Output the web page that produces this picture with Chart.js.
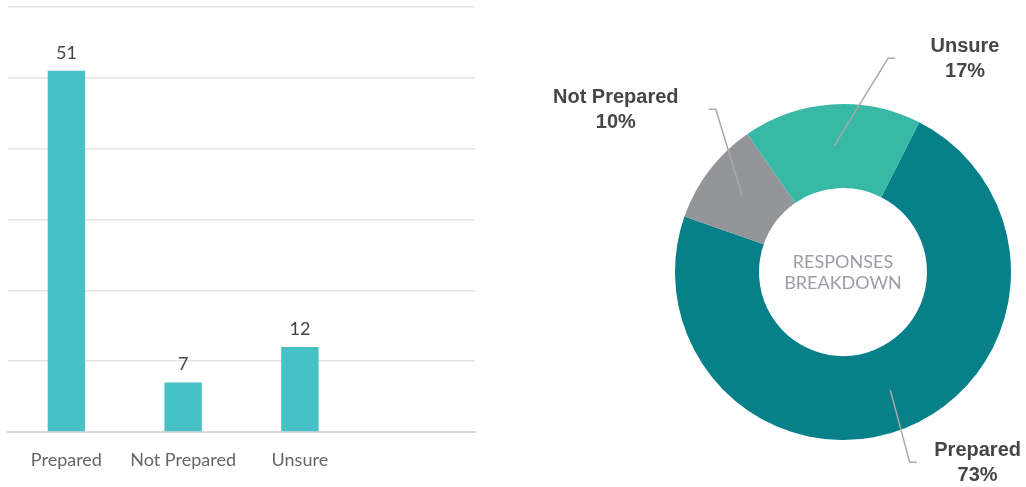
<!DOCTYPE html>
<html>
<head>
<meta charset="utf-8">
<script src="https://cdn.jsdelivr.net/npm/chart.js@4.4.1/dist/chart.umd.min.js"></script>
<style>
  html, body { margin: 0; padding: 0; background: #fff; }
  body { width: 1026px; height: 487px; position: relative; overflow: hidden; }
  #barWrap { position: absolute; left: 0; top: 0; width: 490px; height: 487px; }
  #donutWrap { position: absolute; left: 540px; top: 0; width: 486px; height: 487px; }
</style>
</head>
<body>
<div id="barWrap"><canvas id="barChart"></canvas></div>
<div id="donutWrap"><canvas id="donutChart"></canvas></div>
<script>
// Response counts
const categories = ['Prepared', 'Not Prepared', 'Unsure', ''];
const responses = [51, 7, 12, null];
const yTicks = [0, 10, 20, 30, 40, 50, 60];

// Breakdown ring
const sliceLabels = ['Prepared', 'Not Prepared', 'Unsure'];
const sliceValues = [51, 7, 12];
const sliceColors = ['#08808a', '#939598', '#37b9a6'];
const centerLines = ['RESPONSES', 'BREAKDOWN'];

// Where each slice's callout elbow sits: degrees clockwise from top,
// distance as a multiple of the outer radius, label offset from the elbow
const leaderLayout = [
    { angle: 160.7, reach: 1.20, shift: 68 },
    { angle: 322, reach: 1.23, shift: -100 },
    { angle: 11.9, reach: 1.30, shift: 77 }
];

// Numbers above each bar
const barValuePlugin = {
    id: 'barValues',
    afterDatasetsDraw(chart) {
        const ctx = chart.ctx;
        const meta = chart.getDatasetMeta(0);
        ctx.save();
        ctx.font = '18px Lato';
        ctx.fillStyle = '#444';
        ctx.textAlign = 'center';
        ctx.textBaseline = 'alphabetic';
        meta.data.forEach((bar, i) => {
            const v = chart.data.datasets[0].data[i];
            if (v == null) return;
            ctx.fillText(String(v), bar.x, bar.y - 12);
        });
        ctx.restore();
    }
};

new Chart(document.getElementById('barChart'), {
    type: 'bar',
    data: {
        labels: categories,
        datasets: [{
            data: responses,
            backgroundColor: '#47c0c6',
            barPercentage: 0.32,
            categoryPercentage: 1
        }]
    },
    options: {
        responsive: true,
        maintainAspectRatio: false,
        animation: false,
        layout: { padding: { left: 8, right: 15, top: 7, bottom: 0 } },
        plugins: { legend: { display: false }, tooltip: { enabled: false } },
        scales: {
            x: {
                grid: { display: false },
                border: { display: true, color: '#d9d9d9', width: 2 },
                ticks: { color: '#666', font: { family: 'Lato', size: 18 }, padding: 9 },
                afterFit(scale) { scale.height = 55; }
            },
            y: {
                min: yTicks[0],
                max: yTicks[yTicks.length - 1],
                ticks: { display: false, stepSize: yTicks[1] - yTicks[0] },
                grid: { color: '#e3e3e3', lineWidth: 1.5, drawTicks: false },
                border: { display: false }
            }
        }
    },
    plugins: [barValuePlugin]
});

// Center caption and callout labels for the ring
const ringLabelPlugin = {
    id: 'ringLabels',
    afterDatasetsDraw(chart) {
        const ctx = chart.ctx;
        const meta = chart.getDatasetMeta(0);
        const values = chart.data.datasets[0].data;
        const total = values.reduce((a, b) => a + b, 0);
        const first = meta.data[0];
        const cx = first.x, cy = first.y;

        ctx.save();
        ctx.font = '18px Lato';
        ctx.fillStyle = '#9a9da3';
        ctx.textAlign = 'center';
        ctx.textBaseline = 'middle';
        ctx.fillText(centerLines[0], cx, cy - 10);
        ctx.fillText(centerLines[1], cx, cy + 11);

        meta.data.forEach((arc, i) => {
            const mid = (arc.startAngle + arc.endAngle) / 2;
            const rMid = (arc.innerRadius + arc.outerRadius) / 2 + 1;
            const sx = cx + rMid * Math.cos(mid);
            const sy = cy + rMid * Math.sin(mid);

            const lay = leaderLayout[i];
            const a = lay.angle * Math.PI / 180 - Math.PI / 2;
            const ex = cx + arc.outerRadius * lay.reach * Math.cos(a);
            const ey = cy + arc.outerRadius * lay.reach * Math.sin(a);
            const dir = Math.sign(lay.shift);

            ctx.strokeStyle = '#aaa';
            ctx.lineWidth = 1.5;
            ctx.beginPath();
            ctx.moveTo(sx, sy);
            ctx.lineTo(ex, ey);
            ctx.lineTo(ex + 7 * dir, ey);
            ctx.stroke();

            const pct = Math.round(values[i] / total * 100) + '%';
            ctx.font = 'bold 20px "Liberation Sans", Arial, sans-serif';
            ctx.fillStyle = '#464646';
            ctx.fillText(chart.data.labels[i], ex + lay.shift, ey - 12);
            ctx.fillText(pct, ex + lay.shift, ey + 13);
        });
        ctx.restore();
    }
};

new Chart(document.getElementById('donutChart'), {
    type: 'doughnut',
    data: {
        labels: sliceLabels,
        datasets: [{
            data: sliceValues,
            backgroundColor: sliceColors,
            borderWidth: 0,
            hoverOffset: 0
        }]
    },
    options: {
        responsive: true,
        maintainAspectRatio: false,
        animation: false,
        rotation: 27,
        cutout: '50%',
        layout: { padding: { left: 135, right: 15, top: 104, bottom: 47 } },
        plugins: { legend: { display: false }, tooltip: { enabled: false } }
    },
    plugins: [ringLabelPlugin]
});
</script>
</body>
</html>
